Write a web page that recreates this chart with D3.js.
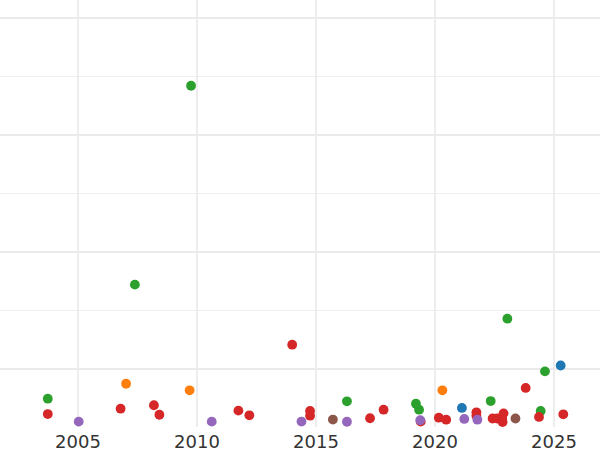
<!DOCTYPE html>
<html>
<head>
<meta charset="utf-8">
<script src="https://cdn.jsdelivr.net/npm/d3@7"></script>
<style>
  body { margin: 0; background: #fff; }
  svg { display: block; font-family: "DejaVu Sans", sans-serif; }
</style>
</head>
<body>
<svg id="chart" width="600" height="450"></svg>
<script>
// series data: [year, value]
const greenPts = [
  [2003.73, 0.746], [2007.39, 1.721], [2009.75, 3.421], [2016.30, 0.724],
  [2019.20, 0.703], [2019.33, 0.652], [2022.34, 0.726], [2023.04, 1.430],
  [2024.62, 0.980], [2024.44, 0.641]
];
const orangePts = [
  [2007.02, 0.874], [2009.69, 0.818], [2020.31, 0.818]
];
const redPts = [
  [2003.73, 0.615], [2006.79, 0.661], [2008.19, 0.690], [2008.42, 0.609],
  [2011.74, 0.644], [2012.20, 0.604], [2014.00, 1.208], [2014.75, 0.641],
  [2014.75, 0.601], [2017.27, 0.579], [2017.84, 0.652], [2019.40, 0.550],
  [2020.16, 0.584], [2020.47, 0.567], [2021.74, 0.630], [2021.74, 0.601],
  [2022.42, 0.577], [2022.61, 0.577], [2022.88, 0.621], [2022.82, 0.579],
  [2022.84, 0.547], [2023.81, 0.838], [2024.37, 0.590], [2025.39, 0.613]
];
const bluePts = [
  [2021.13, 0.667], [2025.28, 1.030]
];
const brownPts = [
  [2015.71, 0.568], [2023.38, 0.577]
];
const purplePts = [
  [2005.03, 0.550], [2010.62, 0.550], [2014.39, 0.551], [2016.30, 0.549],
  [2019.38, 0.562], [2021.23, 0.573], [2021.78, 0.567]
];

const xTicks = [2005, 2010, 2015, 2020, 2025];
const yMajor = [1, 2, 3, 4];
const yMinor = [1.5, 2.5, 3.5];

const series = [
  { pts: greenPts, color: "#2ca02c" },
  { pts: orangePts, color: "#ff7f0e" },
  { pts: redPts, color: "#d62728" },
  { pts: bluePts, color: "#1f77b4" },
  { pts: brownPts, color: "#8c564b" },
  { pts: purplePts, color: "#9467bd" }
];

const svg = d3.select("#chart");
const plotBottom = 427;

const x = d3.scaleLinear().domain([2005, 2025]).range([78, 554]);
const y = d3.scaleLinear().domain([0, 4]).range([486, 18]);

// grid
const grid = svg.append("g");
grid.selectAll(".minor")
  .data(yMinor)
  .enter()
  .append("line")
  .attr("x1", 0).attr("x2", 600)
  .attr("y1", d => y(d)).attr("y2", d => y(d))
  .attr("stroke", "#efefef")
  .attr("stroke-width", 1);
grid.selectAll(".major")
  .data(yMajor)
  .enter()
  .append("line")
  .attr("x1", 0).attr("x2", 600)
  .attr("y1", d => y(d)).attr("y2", d => y(d))
  .attr("stroke", "#ebebeb")
  .attr("stroke-width", 1.8);
grid.selectAll(".vert")
  .data(xTicks)
  .enter()
  .append("line")
  .attr("x1", d => x(d)).attr("x2", d => x(d))
  .attr("y1", 0).attr("y2", plotBottom)
  .attr("stroke", "#ebebeb")
  .attr("stroke-width", 1.8);

// x axis labels
svg.append("g")
  .selectAll("text")
  .data(xTicks)
  .enter()
  .append("text")
  .attr("x", d => x(d))
  .attr("y", 447.5)
  .attr("text-anchor", "middle")
  .attr("fill", "#333")
  .style("font-size", "18px")
  .text(d => d);

// points
series.forEach(s => {
  svg.append("g")
    .selectAll("circle")
    .data(s.pts)
    .enter()
    .append("circle")
    .attr("cx", d => x(d[0]))
    .attr("cy", d => y(d[1]))
    .attr("r", 4.9)
    .attr("fill", s.color);
});
</script>
</body>
</html>
